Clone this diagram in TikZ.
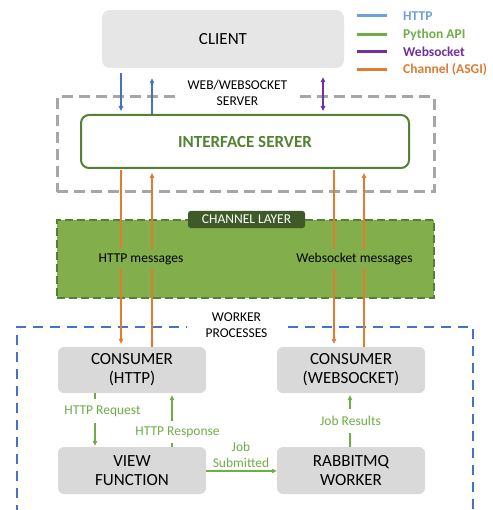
\documentclass[tikz,border=0pt]{standalone}
\usepackage{fontspec}
\setmainfont{Carlito}
\usetikzlibrary{arrows.meta}
\definecolor{httpblue}{HTML}{4472C4}
\definecolor{legblue}{HTML}{6F9FDC}
\definecolor{pygreen}{HTML}{70AD47}
\definecolor{wspurple}{HTML}{7030A0}
\definecolor{chorange}{HTML}{E07B30}
\definecolor{darkgreen}{HTML}{548235}
\definecolor{labgreen}{HTML}{3F5A28}
\definecolor{chfill}{HTML}{82AE4B}
\definecolor{boxgray}{HTML}{D9D9D9}
\definecolor{clientgray}{HTML}{E6E6E6}
\definecolor{dashgray}{HTML}{A6A6A6}
\tikzset{
  x=1pt, y=-1pt,
  big/.style={font=\fontsize{17}{19}\selectfont},
  small/.style={font=\fontsize{13.5}{16}\selectfont},
  graybox/.style={draw=none, fill=boxgray, rounded corners=6pt, minimum width=148pt, big, align=center, inner sep=0pt},
  tip/.style={-{Triangle[length=5pt,width=4.5pt]}},
  both/.style={{Triangle[length=5pt,width=4.5pt]}-{Triangle[length=5pt,width=4.5pt]}},
  orangeline/.style={draw=chorange, line width=1.4pt},
  greenline/.style={draw=pygreen, line width=1.6pt},
  legline/.style={line width=3pt},
  legtext/.style={font=\fontsize{13.5}{16}\selectfont\bfseries, anchor=west, inner sep=0pt},
}
\begin{document}
\begin{tikzpicture}
\useasboundingbox (0,0) rectangle (492,510);

% client
\node[fill=clientgray, rounded corners=8pt, minimum width=242pt, minimum height=58pt, big, inner sep=0pt] (client) at (223,39) {CLIENT};

% legend
\coordinate (l1a) at (357,16); \coordinate (l1b) at (387,16);
\coordinate (l2a) at (357,35); \coordinate (l2b) at (387,35);
\coordinate (l3a) at (357,52); \coordinate (l3b) at (387,52);
\coordinate (l4a) at (357,70); \coordinate (l4b) at (387,70);
\draw[legline, legblue] (l1a) -- (l1b);
\draw[legline, pygreen] (l2a) -- (l2b);
\draw[legline, wspurple] (l3a) -- (l3b);
\draw[legline, chorange] (l4a) -- (l4b);
\node[legtext, text=legblue] (lt1) at (403,16) {HTTP};
\node[legtext, text=pygreen] (lt2) at (403,35) {Python API};
\node[legtext, text=wspurple] (lt3) at (403,52) {Websocket};
\node[legtext, text=chorange] (lt4) at (403,70) {Channel (ASGI)};

% web server dashed box
\node[draw=dashgray, line width=3pt, dash pattern=on 11pt off 6pt, minimum width=377pt, minimum height=95pt, inner sep=0pt] (server) at (245.5,144.5) {};
\node[fill=white, small, align=center, inner sep=1pt, minimum width=124pt] (serverlab) at (237.5,93) {WEB/WEBSOCKET\\SERVER};

% interface server
\node[draw=darkgreen, line width=2pt, fill=white, rounded corners=8pt, minimum width=328pt, minimum height=53pt, font=\fontsize{17}{19}\selectfont\bfseries, text=darkgreen, inner sep=0pt] (iface) at (245,141.5) {INTERFACE SERVER};

% channel layer
\node[draw=darkgreen, fill=chfill, line width=2pt, dash pattern=on 8pt off 4pt, minimum width=377pt, minimum height=78pt, inner sep=0pt] (channel) at (245.5,259) {};
\node[fill=labgreen, text=white, rounded corners=2.5pt, minimum width=117pt, minimum height=17pt, inner sep=0pt, small] (chlab) at (246.5,219.5) {CHANNEL LAYER};

% worker processes
\coordinate (w1) at (17,515); \coordinate (w2) at (17,327);
\coordinate (w3) at (473,327); \coordinate (w4) at (473,515);
\draw[httpblue, line width=2.6pt, dash pattern=on 10pt off 7pt] (w1) -- (w2) -- (w3) -- (w4);
\node[fill=white, small, align=center, inner sep=1pt, minimum width=100pt] (worklab) at (236.5,325) {WORKER\\PROCESSES};

% worker boxes
\node[graybox, minimum height=46pt] (cons1) at (132,370) {CONSUMER\\(HTTP)};
\node[graybox, minimum height=46pt] (cons2) at (351,370) {CONSUMER\\(WEBSOCKET)};
\node[graybox, minimum height=47pt] (view) at (132,470.5) {VIEW\\FUNCTION};
\node[graybox, minimum height=47pt] (rabbit) at (351,470.5) {RABBITMQ\\WORKER};

% client <-> interface
\draw[httpblue, line width=1.4pt, tip, shorten <=5pt, shorten >=3pt] (client.south -| 121,0) -- (iface.north -| 121,0);
\draw[httpblue, line width=1.4pt, tip, shorten >=10pt] (iface.north -| 152,0) -- (client.south -| 152,0);
\draw[wspurple, line width=1.4pt, both, shorten <=9pt, shorten >=3pt] (client.south -| 323,0) -- (iface.north -| 323,0);

% orange channel lines
\draw[orangeline, tip, shorten <=1pt, shorten >=3pt] (iface.south -| 121,0) -- (cons1.north -| 121,0);
\draw[orangeline, tip, shorten >=4pt] (cons1.north -| 152,0) -- (iface.south -| 152,0);
\draw[orangeline, tip, shorten <=1pt, shorten >=3pt] (iface.south -| 334,0) -- (cons2.north -| 334,0);
\draw[orangeline, tip, shorten >=4pt] (cons2.north -| 364,0) -- (iface.south -| 364,0);

\node[fill=chfill, small, inner sep=1pt, minimum height=20pt] (httpmsg) at (141,259) {HTTP messages};
\node[fill=chfill, small, inner sep=1pt, minimum height=20pt] (wsmsg) at (354.5,259) {Websocket messages};

% green python api arrows
\draw[greenline, tip, shorten >=1pt] (cons1.south -| 95,0) -- (view.north -| 95,0);
\node[fill=white, small, text=pygreen, inner sep=1pt, minimum height=24pt] (req) at (102.5,411) {HTTP Request};
\draw[greenline, tip, shorten >=2pt] (view.north -| 172,0) -- (cons1.south -| 172,0);
\node[fill=white, small, text=pygreen, inner sep=1pt, minimum height=22pt] (resp) at (177.5,432) {HTTP Response};
\draw[greenline, tip, shorten >=2pt] (rabbit.north -| 350,0) -- (cons2.south -| 350,0);
\node[fill=white, small, text=pygreen, inner sep=1pt, minimum height=24pt] (res) at (350.5,421) {Job Results};
\draw[greenline, tip] (view.east |- 0,471) -- (rabbit.west |- 0,471);
\node[small, text=pygreen, align=center, inner sep=0pt] (sub) at (241,454.5) {Job\\Submitted};
\end{tikzpicture}
\end{document}
